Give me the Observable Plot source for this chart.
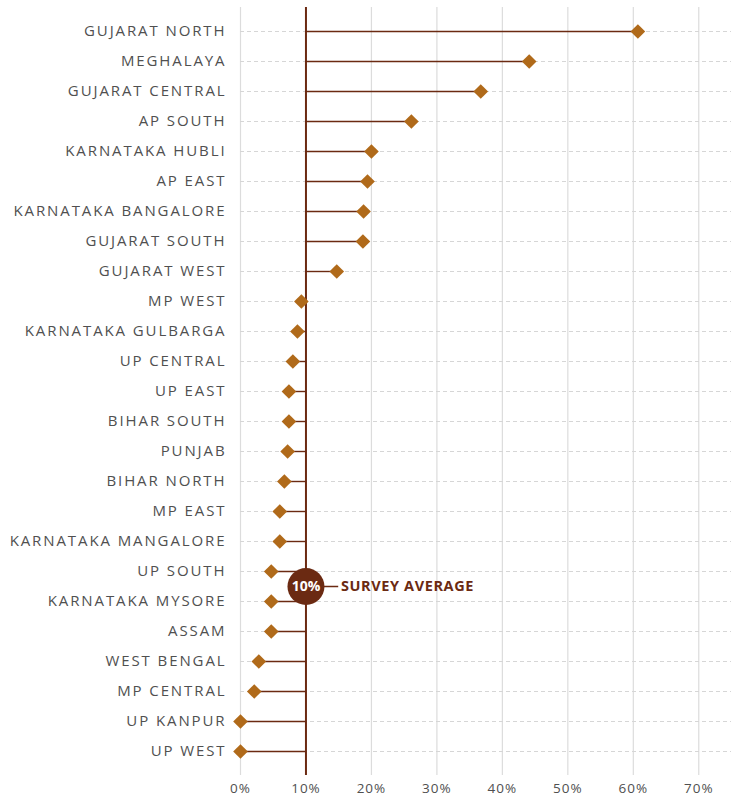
<!DOCTYPE html>
<html>
<head>
<meta charset="utf-8">
<script src="https://cdn.jsdelivr.net/npm/d3@7"></script>
<script src="https://cdn.jsdelivr.net/npm/@observablehq/plot@0.6"></script>
<style>
  html, body { margin: 0; padding: 0; background: #fff; }
  #chart { width: 731px; height: 798px; }
  svg { font-family: "Open Sans", Lato, sans-serif; }
  g[aria-label="y-axis tick label"] text { letter-spacing: 1.9px; }
  g[aria-label="x-axis tick label"] text { letter-spacing: 1px; }
  g.avg-label text { letter-spacing: 0.6px; }
</style>
</head>
<body>
<div id="chart"></div>
<script>
const regions = [
  "GUJARAT NORTH", "MEGHALAYA", "GUJARAT CENTRAL", "AP SOUTH", "KARNATAKA HUBLI",
  "AP EAST", "KARNATAKA BANGALORE", "GUJARAT SOUTH", "GUJARAT WEST", "MP WEST",
  "KARNATAKA GULBARGA", "UP CENTRAL", "UP EAST", "BIHAR SOUTH", "PUNJAB",
  "BIHAR NORTH", "MP EAST", "KARNATAKA MANGALORE", "UP SOUTH", "KARNATAKA MYSORE",
  "ASSAM", "WEST BENGAL", "MP CENTRAL", "UP KANPUR", "UP WEST"
];
const values = [
  60.7, 44.1, 36.7, 26.1, 20.0,
  19.4, 18.8, 18.7, 14.7, 9.3,
  8.7, 8.0, 7.4, 7.4, 7.2,
  6.7, 6.0, 6.0, 4.7, 4.7,
  4.7, 2.8, 2.1, 0, 0
];
const average = 10;
const averageLabel = "SURVEY AVERAGE";
const xTicks = [0, 10, 20, 30, 40, 50, 60, 70];

const data = regions.map((r, i) => ({region: r, value: values[i]}));
const lineColor = "#6b2a12";
const dotColor = "#b06a1a";
const avgRow = "UP SOUTH";

const chart = Plot.plot({
  width: 731,
  height: 798,
  marginLeft: 240,
  marginRight: 0,
  marginTop: 7,
  marginBottom: 23,
  style: {fontFamily: "'Open Sans', Lato, sans-serif", background: "#fff"},
  x: {domain: [0, 75], ticks: xTicks, tickFormat: d => d + "%", label: null},
  y: {type: "point", domain: regions, padding: 0.75, label: null},
  marks: [
    Plot.ruleX(xTicks, {stroke: "#dcdcdc", strokeWidth: 1.2}),
    Plot.ruleY(regions, {stroke: "#d6d6d6", strokeDasharray: "4,3", strokeWidth: 1}),
    Plot.axisY({tickSize: 0, tickPadding: 14, fontSize: 15, fill: "#505050"}),
    Plot.axisX({ticks: xTicks, tickSize: 0, tickPadding: 8, fontSize: 13.5, fill: "#505050",
      tickFormat: d => d + "%"}),
    Plot.link(data, {x1: average, x2: "value", y1: "region", y2: "region", stroke: lineColor, strokeWidth: 1.4}),
    Plot.ruleX([average], {stroke: lineColor, strokeWidth: 2}),
    Plot.dot(data, {x: "value", y: "region", symbol: "diamond2", r: 6.6, fill: dotColor, stroke: null}),
    Plot.ruleY([avgRow], {x1: average, x2: 15, dy: 15, stroke: lineColor, strokeWidth: 1.4}),
    Plot.dot([average], {x: d => d, y: () => avgRow, dy: 15, r: 18.5, fill: lineColor, stroke: null}),
    Plot.text([average], {x: d => d, y: () => avgRow, dy: 15, text: d => d + "%", fill: "#fff",
      fontSize: 14, fontWeight: "bold"}),
    Plot.text([averageLabel], {x: average, y: () => avgRow, dy: 15, dx: 35, text: d => d,
      textAnchor: "start", fill: lineColor, fontSize: 14.5, fontWeight: "bold", className: "avg-label"})
  ]
});
document.getElementById("chart").append(chart);
</script>
</body>
</html>
